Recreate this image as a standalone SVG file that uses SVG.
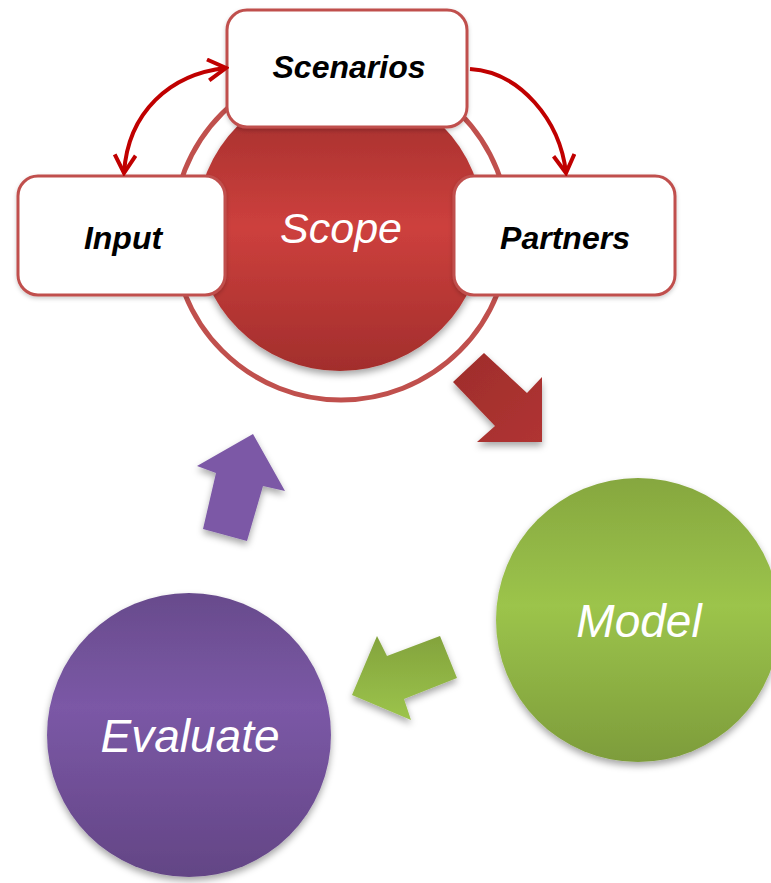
<svg xmlns="http://www.w3.org/2000/svg" width="771" height="883" viewBox="0 0 771 883">
  <style>
    .box { fill: #ffffff; stroke: #c0504d; stroke-width: 3; }
    .lbl { font-family: "Liberation Sans", Arial, sans-serif; font-weight: bold; font-style: italic; font-size: 32px; fill: #000000; text-anchor: middle; }
    .big { font-family: "Liberation Sans", Arial, sans-serif; font-style: italic; fill: #ffffff; text-anchor: middle; }
    .conn { fill: none; stroke: #c00000; stroke-width: 4; }
  </style>
  <defs>
    <linearGradient id="gRed" x1="0" y1="0" x2="0" y2="1">
      <stop offset="0" stop-color="#9e2d2b"/>
      <stop offset="0.5" stop-color="#cd403d"/>
      <stop offset="1" stop-color="#a22e2c"/>
    </linearGradient>
    <linearGradient id="gGreen" x1="0" y1="0" x2="0" y2="1">
      <stop offset="0" stop-color="#86a73f"/>
      <stop offset="0.45" stop-color="#9cc44b"/>
      <stop offset="1" stop-color="#7d9c3b"/>
    </linearGradient>
    <linearGradient id="gPurple" x1="0" y1="0" x2="0" y2="1">
      <stop offset="0" stop-color="#684b8c"/>
      <stop offset="0.4" stop-color="#7b58a6"/>
      <stop offset="1" stop-color="#634585"/>
    </linearGradient>
    <linearGradient id="gRedArrow" x1="0" y1="0" x2="1" y2="1">
      <stop offset="0" stop-color="#9e2d2b"/>
      <stop offset="1" stop-color="#b03432"/>
    </linearGradient>
    <linearGradient id="gGreenArrow" x1="0" y1="0" x2="0" y2="1">
      <stop offset="0" stop-color="#83a33d"/>
      <stop offset="1" stop-color="#9cc44b"/>
    </linearGradient>
    <filter id="shadow" x="-20%" y="-20%" width="140%" height="140%">
      <feDropShadow dx="0" dy="4" stdDeviation="3.5" flood-color="#000000" flood-opacity="0.35"/>
    </filter>
    <filter id="shadowLight" x="-20%" y="-20%" width="140%" height="140%">
      <feDropShadow dx="0" dy="2" stdDeviation="2" flood-color="#000000" flood-opacity="0.2"/>
    </filter>
    <marker id="vhead" viewBox="0 0 24 24" refX="21" refY="12" markerWidth="24" markerHeight="24" markerUnits="userSpaceOnUse" orient="auto-start-reverse">
      <path d="M3,1.5 L21,12 L3,22.5" fill="none" stroke="#c00000" stroke-width="4" stroke-linejoin="miter"/>
    </marker>
  </defs>

  <g id="scope-ring">
    <circle cx="341" cy="232" r="168" fill="none" stroke="#c0504d" stroke-width="5"/>
  </g>

  <g id="scope">
    <circle cx="340" cy="227" r="144" fill="url(#gRed)" filter="url(#shadow)"/>
    <text class="big" x="341" y="243" font-size="43">Scope</text>
  </g>

  <g id="scenarios">
    <rect class="box" x="227" y="10" width="240" height="117" rx="20" filter="url(#shadowLight)"/>
    <text class="lbl" x="349" y="78">Scenarios</text>
  </g>

  <g id="input">
    <rect class="box" x="18" y="176" width="207" height="119" rx="20" filter="url(#shadowLight)"/>
    <text class="lbl" x="123" y="249">Input</text>
  </g>

  <g id="partners">
    <rect class="box" x="454" y="176" width="221" height="119" rx="20" filter="url(#shadowLight)"/>
    <text class="lbl" x="565" y="249">Partners</text>
  </g>

  <g id="model">
    <circle cx="638" cy="620" r="142" fill="url(#gGreen)" filter="url(#shadow)"/>
    <text class="big" x="639" y="637" font-size="46">Model</text>
  </g>

  <g id="evaluate">
    <circle cx="189" cy="735" r="142" fill="url(#gPurple)" filter="url(#shadow)"/>
    <text class="big" x="190" y="752" font-size="46">Evaluate</text>
  </g>

  <g id="connectors">
    <path class="conn" d="M124,173 C128,112 170,74 226,68" marker-start="url(#vhead)" marker-end="url(#vhead)"/>
    <path class="conn" d="M470,69 C520,72 560,120 566,173" marker-end="url(#vhead)"/>
    <polygon points="453,382 484,353 527,393 542,377 542,442 477,442 495,426" fill="url(#gRedArrow)" filter="url(#shadow)"/>
    <polygon points="352,695 377,636 387,656 440,636 457,678 404,699 411,720" fill="url(#gGreenArrow)" filter="url(#shadow)"/>
    <polygon points="253,434 285,491 263,486 247,541 203,529 216,473 197,466" fill="#7b58a6" filter="url(#shadow)"/>
  </g>
</svg>
